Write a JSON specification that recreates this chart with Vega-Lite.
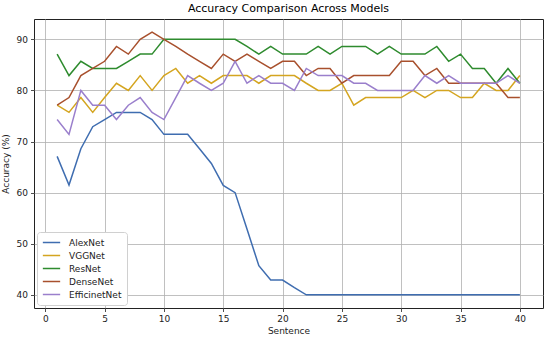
{
  "$schema": "https://vega.github.io/schema/vega-lite/v6.json",
  "width": 509,
  "height": 289,
  "autosize": {"type": "none"},
  "padding": {"left": 34, "top": 19, "right": 7, "bottom": 30},
  "background": "white",
  "title": {"text": "Accuracy Comparison Across Models", "font": "DejaVu Sans", "fontSize": 11, "fontWeight": "normal", "color": "#000", "offset": 5},
  "config": {
    "view": {"stroke": "#222", "strokeWidth": 1},
    "axis": {"domain": false, "grid": true, "gridColor": "#b0b0b0", "gridWidth": 0.8, "tickColor": "#222", "tickSize": 3.5, "tickWidth": 0.8, "labelFont": "DejaVu Sans", "labelFontSize": 9, "labelColor": "#222", "titleFont": "DejaVu Sans", "titleFontSize": 9, "titleFontWeight": "normal", "titleColor": "#222", "labelPadding": 3}
  },
  "data": {
    "values": [
      {"x":1,"AlexNet":67.1,"VGGNet":77.1,"ResNet":87.1,"DenseNet":77.1,"EfficinetNet":74.3},
      {"x":2,"AlexNet":61.5,"VGGNet":75.7,"ResNet":82.9,"DenseNet":78.6,"EfficinetNet":71.4},
      {"x":3,"AlexNet":68.6,"VGGNet":78.6,"ResNet":85.7,"DenseNet":82.9,"EfficinetNet":80.0},
      {"x":4,"AlexNet":72.9,"VGGNet":75.7,"ResNet":84.3,"DenseNet":84.3,"EfficinetNet":77.1},
      {"x":5,"AlexNet":74.3,"VGGNet":78.6,"ResNet":84.3,"DenseNet":85.7,"EfficinetNet":77.1},
      {"x":6,"AlexNet":75.7,"VGGNet":81.4,"ResNet":84.3,"DenseNet":88.6,"EfficinetNet":74.3},
      {"x":7,"AlexNet":75.7,"VGGNet":80.0,"ResNet":85.7,"DenseNet":87.1,"EfficinetNet":77.1},
      {"x":8,"AlexNet":75.7,"VGGNet":82.9,"ResNet":87.1,"DenseNet":90.0,"EfficinetNet":78.6},
      {"x":9,"AlexNet":74.3,"VGGNet":80.0,"ResNet":87.1,"DenseNet":91.4,"EfficinetNet":75.7},
      {"x":10,"AlexNet":71.4,"VGGNet":82.9,"ResNet":90.0,"DenseNet":90.0,"EfficinetNet":74.3},
      {"x":11,"AlexNet":71.4,"VGGNet":84.3,"ResNet":90.0,"DenseNet":88.6,"EfficinetNet":78.6},
      {"x":12,"AlexNet":71.4,"VGGNet":81.4,"ResNet":90.0,"DenseNet":87.1,"EfficinetNet":82.9},
      {"x":13,"AlexNet":68.6,"VGGNet":82.9,"ResNet":90.0,"DenseNet":85.7,"EfficinetNet":81.4},
      {"x":14,"AlexNet":65.7,"VGGNet":81.4,"ResNet":90.0,"DenseNet":84.3,"EfficinetNet":80.0},
      {"x":15,"AlexNet":61.4,"VGGNet":82.9,"ResNet":90.0,"DenseNet":87.1,"EfficinetNet":81.4},
      {"x":16,"AlexNet":60.0,"VGGNet":82.9,"ResNet":90.0,"DenseNet":85.7,"EfficinetNet":85.7},
      {"x":17,"AlexNet":52.9,"VGGNet":82.9,"ResNet":88.6,"DenseNet":87.1,"EfficinetNet":81.4},
      {"x":18,"AlexNet":45.7,"VGGNet":81.4,"ResNet":87.1,"DenseNet":85.7,"EfficinetNet":82.9},
      {"x":19,"AlexNet":42.9,"VGGNet":82.9,"ResNet":88.6,"DenseNet":84.3,"EfficinetNet":81.4},
      {"x":20,"AlexNet":42.9,"VGGNet":82.9,"ResNet":87.1,"DenseNet":85.7,"EfficinetNet":81.4},
      {"x":21,"AlexNet":41.4,"VGGNet":82.9,"ResNet":87.1,"DenseNet":85.7,"EfficinetNet":80.0},
      {"x":22,"AlexNet":40.0,"VGGNet":81.4,"ResNet":87.1,"DenseNet":82.9,"EfficinetNet":84.3},
      {"x":23,"AlexNet":40.0,"VGGNet":80.0,"ResNet":88.6,"DenseNet":84.3,"EfficinetNet":82.9},
      {"x":24,"AlexNet":40.0,"VGGNet":80.0,"ResNet":87.1,"DenseNet":84.3,"EfficinetNet":82.9},
      {"x":25,"AlexNet":40.0,"VGGNet":81.4,"ResNet":88.6,"DenseNet":81.4,"EfficinetNet":82.9},
      {"x":26,"AlexNet":40.0,"VGGNet":77.1,"ResNet":88.6,"DenseNet":82.9,"EfficinetNet":81.4},
      {"x":27,"AlexNet":40.0,"VGGNet":78.6,"ResNet":88.6,"DenseNet":82.9,"EfficinetNet":81.4},
      {"x":28,"AlexNet":40.0,"VGGNet":78.6,"ResNet":87.1,"DenseNet":82.9,"EfficinetNet":80.0},
      {"x":29,"AlexNet":40.0,"VGGNet":78.6,"ResNet":88.6,"DenseNet":82.9,"EfficinetNet":80.0},
      {"x":30,"AlexNet":40.0,"VGGNet":78.6,"ResNet":87.1,"DenseNet":85.7,"EfficinetNet":80.0},
      {"x":31,"AlexNet":40.0,"VGGNet":80.0,"ResNet":87.1,"DenseNet":85.7,"EfficinetNet":80.0},
      {"x":32,"AlexNet":40.0,"VGGNet":78.6,"ResNet":87.1,"DenseNet":82.9,"EfficinetNet":82.9},
      {"x":33,"AlexNet":40.0,"VGGNet":80.0,"ResNet":88.6,"DenseNet":84.3,"EfficinetNet":81.4},
      {"x":34,"AlexNet":40.0,"VGGNet":80.0,"ResNet":85.7,"DenseNet":81.4,"EfficinetNet":82.9},
      {"x":35,"AlexNet":40.0,"VGGNet":78.6,"ResNet":87.1,"DenseNet":81.4,"EfficinetNet":81.4},
      {"x":36,"AlexNet":40.0,"VGGNet":78.6,"ResNet":84.3,"DenseNet":81.4,"EfficinetNet":81.4},
      {"x":37,"AlexNet":40.0,"VGGNet":81.4,"ResNet":84.3,"DenseNet":81.4,"EfficinetNet":81.4},
      {"x":38,"AlexNet":40.0,"VGGNet":80.0,"ResNet":81.4,"DenseNet":81.4,"EfficinetNet":81.4},
      {"x":39,"AlexNet":40.0,"VGGNet":80.0,"ResNet":84.3,"DenseNet":78.6,"EfficinetNet":82.9},
      {"x":40,"AlexNet":40.0,"VGGNet":82.9,"ResNet":81.4,"DenseNet":78.6,"EfficinetNet":81.4}
    ]
  },
  "transform": [
    {"fold": ["AlexNet", "VGGNet", "ResNet", "DenseNet", "EfficinetNet"], "as": ["model", "acc"]}
  ],
  "mark": {"type": "line", "strokeWidth": 1.5, "clip": true},
  "encoding": {
    "x": {"field": "x", "type": "quantitative", "title": "Sentence",
          "scale": {"domain": [-0.95, 41.95], "nice": false, "zero": false},
          "axis": {"values": [0,5,10,15,20,25,30,35,40], "titlePadding": 3}},
    "y": {"field": "acc", "type": "quantitative", "title": "Accuracy (%)",
          "scale": {"domain": [37.43, 93.97], "nice": false, "zero": false},
          "axis": {"values": [40,50,60,70,80,90], "titlePadding": 6}},
    "color": {"field": "model", "type": "nominal", "title": null,
              "scale": {"domain": ["AlexNet", "VGGNet", "ResNet", "DenseNet", "EfficinetNet"],
                        "range": ["#3f6db0", "#d4a520", "#2e8b2e", "#a8502d", "#9a7fcc"]},
              "legend": {"orient": "bottom-left", "offset": 3, "symbolType": "stroke", "symbolSize": 300, "symbolStrokeWidth": 1.5,
                         "labelFont": "DejaVu Sans", "labelFontSize": 9, "labelColor": "#222", "rowPadding": 2, "clipHeight": 11, "labelOffset": 8,
                         "padding": 5, "fillColor": "white", "strokeColor": "#d0d0d0", "cornerRadius": 3}},
    "order": {"field": "x", "type": "quantitative"}
  }
}
